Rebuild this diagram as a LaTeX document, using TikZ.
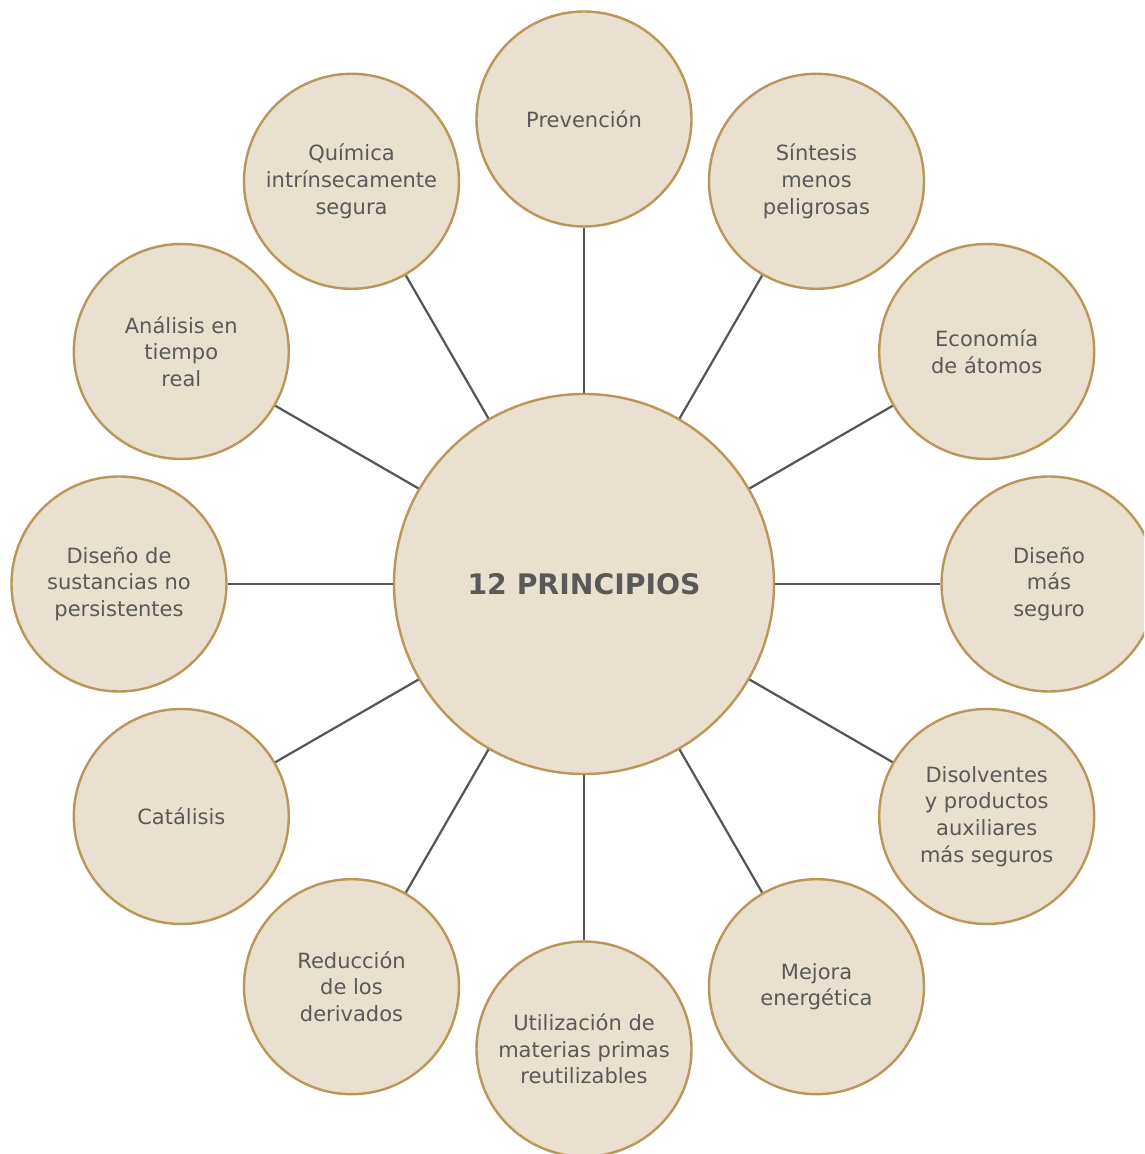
\documentclass[tikz,border=0pt]{standalone}
\usepackage{fontspec}
\setmainfont{DejaVu Sans}
\usetikzlibrary{calc}
\definecolor{cfill}{HTML}{EAE0D0}
\definecolor{cedge}{HTML}{B8975A}
\definecolor{ctext}{HTML}{595959}
\definecolor{cline}{HTML}{555555}
\begin{document}
\begin{tikzpicture}[x=1pt,y=1pt,
  leaf/.style={circle,draw=cedge,fill=cfill,line width=2.4pt,minimum size=215pt,inner sep=0pt,align=center,text=ctext,font=\fontsize{21}{26.7}\selectfont},
  hub/.style={circle,draw=cedge,fill=cfill,line width=2.4pt,minimum size=380pt,inner sep=0pt,align=center,text=ctext,font=\fontsize{28.3}{32}\selectfont\bfseries},
  link/.style={draw=cline,line width=2.2pt}]
\clip (0,0) rectangle (1144,1154);
\fill[white] (0,0) rectangle (1144,1154);
\coordinate (o) at (584,570);
\node[hub] (c) at (o) {12 PRINCIPIOS};
\node[leaf] (p1) at ($(o)+(90:465pt)$) {Prevención};
\node[leaf] (p2) at ($(o)+(60:465pt)$) {Síntesis\\menos\\peligrosas};
\node[leaf] (p3) at ($(o)+(30:465pt)$) {Economía\\de átomos};
\node[leaf] (p4) at ($(o)+(0:465pt)$) {Diseño\\más\\seguro};
\node[leaf] (p5) at ($(o)+(-30:465pt)$) {Disolventes\\y productos\\auxiliares\\más seguros};
\node[leaf] (p6) at ($(o)+(-60:465pt)$) {Mejora\\energética};
\node[leaf] (p7) at ($(o)+(-90:465pt)$) {Utilización de\\materias primas\\reutilizables};
\node[leaf] (p8) at ($(o)+(-120:465pt)$) {Reducción\\de los\\derivados};
\node[leaf] (p9) at ($(o)+(-150:465pt)$) {Catálisis};
\node[leaf] (p10) at ($(o)+(180:465pt)$) {Diseño de\\sustancias no\\persistentes};
\node[leaf] (p11) at ($(o)+(150:465pt)$) {Análisis en\\tiempo\\real};
\node[leaf] (p12) at ($(o)+(120:465pt)$) {Química\\intrínsecamente\\segura};
\foreach \i in {1,...,12} \draw[link] (c) -- (p\i);
\end{tikzpicture}
\end{document}
